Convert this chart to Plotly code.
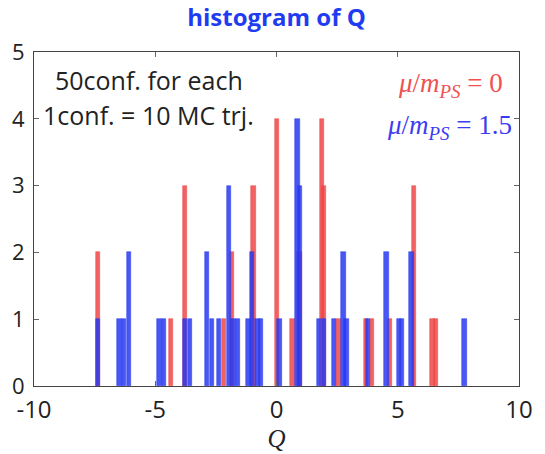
import plotly.graph_objects as go

# Histogram bar centres (Q) and counts
red_q = [-7.37, -4.35, -3.77, -2.17, -1.84, -0.95, 0.01, 0.66, 0.95, 1.87, 1.97,
         2.55, 3.68, 3.94, 4.67, 5.67, 6.44, 6.58]
red_n = [2, 1, 3, 1, 2, 3, 4, 1, 2, 4, 3, 1, 1, 1, 1, 3, 1, 1]

blue_q = [-7.37, -6.48, -6.28, -6.07, -4.83, -4.65, -3.77, -3.58, -2.86, -2.67,
          -2.36, -1.95, -1.77, -1.58, -1.16, -1.02, -0.79, -0.64, 0.12, 0.86,
          0.96, 1.76, 1.95, 2.37, 2.76, 2.89, 3.76, 4.54, 5.04, 5.17, 5.56, 7.75]
blue_n = [1, 1, 1, 2, 1, 1, 1, 1, 2, 1, 1, 3, 1, 1, 1, 2, 1, 1, 1, 4, 3, 1, 1, 1,
          2, 1, 1, 2, 1, 1, 2, 1]

x_ticks = [-10, -5, 0, 5, 10]
x_labels = ["-10", "-5", "0", "5", "10"]
y_ticks = [0, 1, 2, 3, 4, 5]

RED = "rgba(238,70,70,0.85)"
BLUE = "rgba(40,58,240,0.85)"

fig = go.Figure()
fig.add_trace(go.Bar(x=red_q, y=red_n, width=0.18, marker=dict(color=RED, line=dict(width=0.6, color=RED))))
fig.add_trace(go.Bar(x=blue_q, y=blue_n, width=0.18, marker=dict(color=BLUE, line=dict(width=0.6, color=BLUE))))

SANS = "Open Sans, Noto Sans, sans-serif"
axis_common = dict(showline=True, linecolor="#444", linewidth=1, mirror="ticks",
                   ticks="inside", ticklen=5, tickcolor="#666", showgrid=False,
                   zeroline=False)

fig.update_layout(
    width=545, height=454,
    margin=dict(l=32, r=17, t=52, b=61),
    paper_bgcolor="white", plot_bgcolor="white",
    barmode="overlay", showlegend=False, bargap=0,
    title=dict(text="<b>histogram of Q</b>", x=0.50, xref="paper", y=1 - 18 / 454,
               yref="container", xanchor="center", yanchor="middle",
               font=dict(family=SANS, size=24, color="#1f3cf0")),
    xaxis=dict(range=[-10, 10], tickvals=x_ticks, ticktext=x_labels, ticklabelstandoff=2,
               tickfont=dict(family=SANS, size=24, color="#222"),
               title=dict(text="<i>Q</i>", standoff=0,
                          font=dict(family="Liberation Serif, DejaVu Serif, serif", size=25, color="#222")),
               **axis_common),
    yaxis=dict(range=[0, 5], tickvals=y_ticks, ticklabelstandoff=4,
               tickfont=dict(family=SANS, size=22, color="#222"), **axis_common),
)

txt_font = dict(family=SANS, size=25, color="#222")
fig.add_annotation(text="50conf. for each", xref="paper", yref="paper", x=0.040, y=0.916,
                   xanchor="left", yanchor="middle", showarrow=False, font=txt_font)
fig.add_annotation(text="1conf. = 10 MC trj.", xref="paper", yref="paper", x=0.014, y=0.812,
                   xanchor="left", yanchor="middle", showarrow=False, font=txt_font)

math_font = dict(family="Liberation Serif, DejaVu Serif, serif", size=27)
fig.add_annotation(text="<i>μ</i>/<i>m</i><sub><i>PS</i></sub>&nbsp;=&nbsp;0", xref="paper", yref="paper",
                   x=0.972, y=0.902, xanchor="right", yanchor="middle", showarrow=False,
                   font=dict(color="rgb(240,80,80)", **math_font))
fig.add_annotation(text="<i>μ</i>/<i>m</i><sub><i>PS</i></sub>&nbsp;=&nbsp;1.5", xref="paper", yref="paper",
                   x=0.99, y=0.775, xanchor="right", yanchor="middle", showarrow=False,
                   font=dict(color="rgb(60,60,240)", **math_font))

fig.write_html("out.html")
